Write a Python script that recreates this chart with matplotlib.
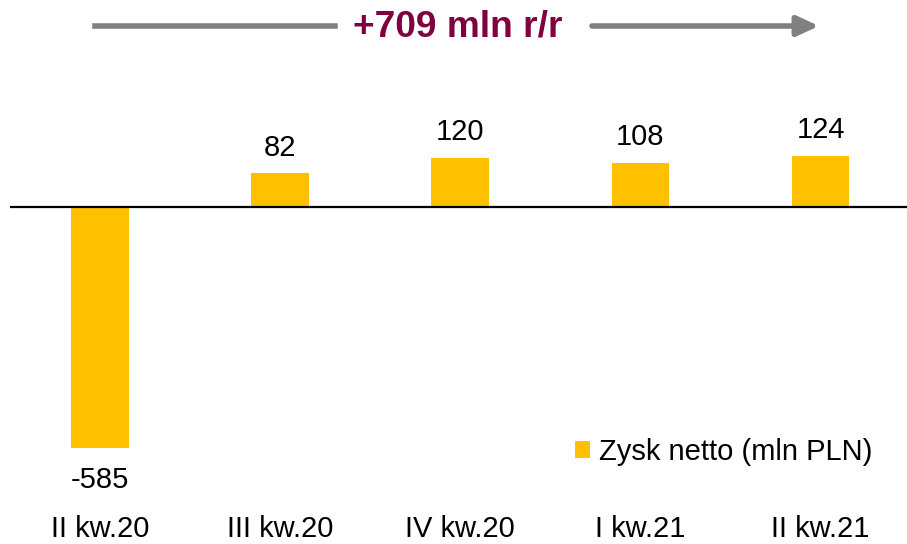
import matplotlib
matplotlib.use("Agg")
import matplotlib.pyplot as plt
from matplotlib.patches import Patch
from matplotlib.transforms import blended_transform_factory

categories = ["II kw.20", "III kw.20", "IV kw.20", "I kw.21", "II kw.21"]
values = [-585, 82, 120, 108, 124]
series_name = "Zysk netto (mln PLN)"
title_text = "+709 mln r/r"

plt.rcParams['font.family'] = ['Liberation Sans', 'DejaVu Sans']

W, H = 907, 544
fig = plt.figure(figsize=(W / 100, H / 100), dpi=100)

# axes geometry (pixel based)
top_px, bot_px, zero_px = 90, 470, 207
scale = (448 - 207) / 585.0
ax = fig.add_axes([10 / W, 1 - bot_px / H, 1 - 10 / W, (bot_px - top_px) / H])
ax.set_ylim(-(bot_px - zero_px) / scale, (zero_px - top_px) / scale)
ax.set_xlim(-0.5, 4.48)

bar_color = "#FFC000"
x = list(range(len(categories)))
ax.bar(x, values, width=0.32, color=bar_color, zorder=2)
ax.axhline(0, color="black", linewidth=1.6, zorder=3)

fs = 21
for xi, v in zip(x, values):
    if v >= 0:
        ax.annotate(f"{v}", (xi, v), xytext=(0, 18.5), textcoords="offset points",
                    ha="center", va="center", fontsize=fs)
    else:
        ax.annotate(f"{v}", (xi, v), xytext=(0, -23), textcoords="offset points",
                    ha="center", va="center", fontsize=fs)

trans = blended_transform_factory(ax.transData, fig.transFigure)
for xi, c in zip(x, categories):
    ax.text(xi, 1 - 529 / H, c, transform=trans, ha="center", va="center", fontsize=fs)

for s in ax.spines.values():
    s.set_visible(False)
ax.set_xticks([])
ax.set_yticks([])

# legend
handle = Patch(facecolor=bar_color, edgecolor="none")
fig.legend([handle], [series_name], loc="center left",
           bbox_to_anchor=(575 / W, 1 - 452 / H), frameon=False, fontsize=fs,
           handlelength=0.52, handleheight=0.52, handletextpad=0.3, borderpad=0,
           borderaxespad=0)

# title with arrows
fig.text(458 / W, 1 - 27 / H, title_text, ha="center", va="center", fontsize=26.7,
         fontweight="bold", color="#800040")
gray = "#808080"
fig.add_artist(plt.Line2D([95 / W, 335 / W], [1 - 26 / H, 1 - 26 / H],
                          color=gray, linewidth=4, transform=fig.transFigure))
fig.patches.append(matplotlib.patches.FancyArrowPatch(
    (592 / W, 1 - 26 / H), (819 / W, 1 - 26 / H), transform=fig.transFigure,
    arrowstyle="-|>,head_length=13,head_width=6", color=gray, linewidth=4,
    mutation_scale=1, shrinkA=0, shrinkB=0))

fig.savefig("out.png", dpi=100)
